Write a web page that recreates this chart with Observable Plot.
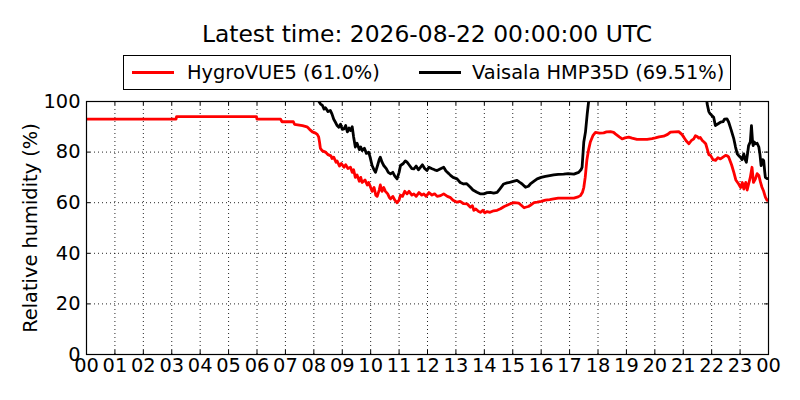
<!DOCTYPE html>
<html><head><meta charset="utf-8">
<script src="https://cdn.jsdelivr.net/npm/d3@7"></script>
<script src="https://cdn.jsdelivr.net/npm/@observablehq/plot@0.6"></script>
<style>
body{margin:0;background:#fff;font-family:"DejaVu Sans",sans-serif;}
#wrap{position:relative;width:800px;height:400px;overflow:hidden;background:#fff;}
#title{position:absolute;left:0;width:854px;top:21px;text-align:center;font-size:23.4px;line-height:26px;color:#000;}
#legend{position:absolute;left:123px;top:55px;width:606px;height:33px;border:1px solid #000;background:#fff;}
.sw{position:absolute;top:15px;height:3px;width:42px;}
.lt{position:absolute;top:0;font-size:19.4px;line-height:33px;color:#000;white-space:nowrap;}
#chart{position:absolute;left:0;top:90px;}
</style></head>
<body>
<div id="wrap">
  <div id="title"></div>
  <div id="legend">
    <div class="sw" style="left:8px;background:#ff0000"></div>
    <div class="lt" id="lt1" style="left:63px"></div>
    <div class="sw" style="left:295px;background:#000"></div>
    <div class="lt" id="lt2" style="left:348px"></div>
  </div>
  <div id="chart"></div>
</div>
<script>
const titleText = "Latest time: 2026-08-22 00:00:00 UTC";
const seriesNames = ["HygroVUE5 (61.0%)", "Vaisala HMP35D (69.51%)"];
const yLabel = "Relative humidity (%)";
const xTicks = d3.range(0, 25);
const yTicks = [0, 20, 40, 60, 80, 100];

const redHours = [0,3.15,3.17,5.98,6.0,6.83,6.88,7.28,7.32,7.6,7.76,7.85,7.95,8.06,8.12,8.17,8.2,8.23,8.3,8.41,8.5,8.6,8.64,8.7,8.78,8.82,8.9,8.97,9.06,9.12,9.2,9.29,9.35,9.4,9.46,9.52,9.6,9.65,9.7,9.8,9.88,9.93,10.0,10.05,10.12,10.18,10.23,10.3,10.34,10.4,10.46,10.52,10.6,10.66,10.7,10.78,10.85,10.93,11.0,11.05,11.12,11.2,11.28,11.35,11.45,11.52,11.6,11.7,11.8,11.87,11.95,12.05,12.16,12.25,12.34,12.46,12.57,12.7,12.81,12.9,13.04,13.15,13.27,13.4,13.51,13.58,13.63,13.7,13.8,13.86,13.95,14.02,14.1,14.2,14.33,14.45,14.57,14.7,14.8,14.92,15.05,15.21,15.3,15.4,15.45,15.55,15.62,15.75,15.86,16.0,16.15,16.3,16.44,16.6,16.79,17.0,17.15,17.3,17.38,17.45,17.5,17.55,17.61,17.67,17.73,17.82,17.91,18.05,18.2,18.3,18.44,18.55,18.61,18.75,18.85,18.95,19.08,19.2,19.37,19.55,19.73,19.9,20.02,20.15,20.31,20.45,20.55,20.7,20.84,20.95,21.02,21.1,21.2,21.28,21.37,21.43,21.49,21.55,21.6,21.67,21.73,21.79,21.85,21.9,21.96,22.05,22.14,22.22,22.31,22.4,22.49,22.55,22.6,22.7,22.78,22.85,22.95,23.02,23.08,23.13,23.2,23.25,23.3,23.36,23.42,23.47,23.54,23.6,23.66,23.72,23.77,23.83,23.89,23.95,24.0];
const redValues = [93,93,94,94,93,93,92,92,91,90.5,90,89,88,87.5,87,86,84,81.5,80.5,80,79,78.5,77.5,78,76,76.5,74.5,75.5,74,75,73.5,74,72,73,70,71,68.5,70,68,69,67,68,66,64.5,66,63,62.5,65,67,64.5,66,64.5,63.5,62,61.5,62.5,61,60,61,63,62.5,64.5,63.5,64.5,63,63.5,62.5,64,63,63.5,62.5,64,63,63.5,62.5,62.8,63.5,62.5,62,61,60.2,60.5,59.6,59.5,58.2,58.8,57,57.5,56.5,56.2,57,56,56.5,56.2,56.8,57,57.6,58.5,59,59.6,60,59.8,59,58,58.2,58.5,59,60,60.2,60.5,61,61.2,61.5,61.8,61.8,61.8,61.8,62.3,62.8,64,66,70,77,81,84,86.5,87.8,87.5,87.6,88,88.1,87.8,87.2,86,85.2,85.6,85.9,85.5,85,85,85,85.3,85.6,86,86.3,87,87.9,88,88.1,87,85.9,84.5,83.3,84.5,85.2,86.5,86.2,85.5,85.8,84.6,84,83.3,81,79,78.7,77,76.7,77.8,77.3,78,78.7,78.5,78,75,72,69,67.4,66,68,65.4,68,65,67.4,70,74,68,69.4,71.5,70.8,68,66.1,64.5,62.2,60.9,61.0];

const blackHours = [8.0,8.15,8.23,8.3,8.36,8.41,8.5,8.58,8.64,8.7,8.76,8.82,8.88,8.94,9.0,9.06,9.12,9.18,9.24,9.29,9.35,9.4,9.46,9.52,9.6,9.65,9.7,9.78,9.85,9.93,9.98,10.05,10.12,10.17,10.25,10.3,10.34,10.4,10.46,10.55,10.62,10.7,10.78,10.85,10.93,11.0,11.05,11.15,11.22,11.28,11.35,11.45,11.52,11.6,11.68,11.75,11.82,11.9,11.98,12.05,12.16,12.25,12.34,12.46,12.57,12.65,12.75,12.81,12.9,13.04,13.15,13.27,13.38,13.51,13.6,13.74,13.85,13.98,14.1,14.21,14.33,14.45,14.55,14.68,14.8,14.92,15.05,15.15,15.25,15.33,15.45,15.55,15.62,15.75,15.86,16.0,16.15,16.3,16.44,16.6,16.79,16.95,17.15,17.32,17.4,17.44,17.5,17.56,17.62,17.67,17.72,17.8,21.75,21.84,21.9,21.95,22.0,22.07,22.13,22.2,22.31,22.4,22.45,22.54,22.6,22.68,22.78,22.84,22.9,22.96,23.01,23.07,23.13,23.18,23.22,23.27,23.3,23.36,23.4,23.44,23.46,23.5,23.54,23.6,23.66,23.7,23.74,23.8,23.83,23.87,23.89,23.95,24.0];
const blackValues = [103,100.5,99.1,98.5,97,97.5,96,96.5,95,93,91.8,90.5,89.8,91,89,89.2,90.5,88,89.5,88.5,90,86,82,83.5,81,82,80.6,81.5,79.5,80,78,74.7,73,72,75,77,78,76,74.7,73.5,72,71.4,72,70.5,69.4,72,74.7,75.5,76.5,76,75,73.5,73.4,74.5,73,74,75,73.5,72.7,74,73.4,73,72.7,73.4,74,72.5,71.5,70.8,70,69.4,68,67.4,67.5,66.1,65,64.1,63.5,63.5,64,64.1,63.8,64.1,65.5,67.4,67.8,68.1,68.5,68.8,68,67.4,66.1,66.5,67.4,68.5,69.4,70,70.4,70.7,71,71.2,71.3,71.5,71.3,72,73,74,84,88,95,100,110,115,110,99.1,96,95.1,94.5,93.8,90.5,91,91.8,92,93,93.1,91.8,89,85.2,82,79.3,78.5,78,77,79.3,77,76,80,82.6,84,90.5,84,82.6,84,83.3,83.5,82,79,74.7,77,76.7,72,70,69.5,69.51];

const redData = redHours.map((h, i) => ({h, v: redValues[i]}));
const blackData = blackHours.map((h, i) => ({h, v: blackValues[i]}));

document.getElementById("title").textContent = titleText;
document.getElementById("lt1").textContent = seriesNames[0];
document.getElementById("lt2").textContent = seriesNames[1];

const W = 800, H = 310, mT = 11, mB = 46, mL = 86, mR = 32;
const frameH = H - mT - mB, frameW = W - mL - mR;
const grid = {stroke: "#000", strokeWidth: 1, strokeDasharray: "1,3", strokeOpacity: 0.85};

const chart = Plot.plot({
  width: W, height: H, marginTop: mT, marginBottom: mB, marginLeft: mL, marginRight: mR,
  style: {fontFamily: "DejaVu Sans, sans-serif", fontSize: "19.4px", background: "white", color: "black", overflow: "visible"},
  x: {domain: [0, 24]},
  y: {domain: [0, 100]},
  marks: [
    Plot.ruleX(xTicks.slice(1, -1), {x: d => d, ...grid}),
    Plot.ruleY(yTicks.slice(1, -1), {y: d => d, ...grid}),
    Plot.line(redData, {x: "h", y: "v", stroke: "#ff0000", strokeWidth: 2.8, clip: true}),
    Plot.line(blackData, {x: "h", y: "v", stroke: "#000", strokeWidth: 2.8, clip: true}),
    Plot.ruleX(xTicks, {x: d => d, insetTop: frameH - 4, stroke: "#000"}),
    Plot.ruleX(xTicks, {x: d => d, insetBottom: frameH - 4, stroke: "#000"}),
    Plot.ruleY(yTicks, {y: d => d, insetRight: frameW - 4, stroke: "#000"}),
    Plot.ruleY(yTicks, {y: d => d, insetLeft: frameW - 4, stroke: "#000"}),
    Plot.frame({stroke: "#000", strokeWidth: 1.2}),
    Plot.axisX(xTicks, {tickSize: 0, tickPadding: 4, fontSize: 19.4, tickFormat: d => String(d % 24).padStart(2, "0"), label: null, fill: "#000"}),
    Plot.axisY(yTicks, {tickSize: 0, tickPadding: 6, fontSize: 19.4, tickFormat: d => String(d), label: null, fill: "#000"}),
    Plot.text([yLabel], {text: d => d, frameAnchor: "left", textAnchor: "middle", rotate: -90, dx: -56, fontSize: 19.4, fill: "#000"})
  ]
});
document.getElementById("chart").appendChild(chart);
</script>
</body></html>
